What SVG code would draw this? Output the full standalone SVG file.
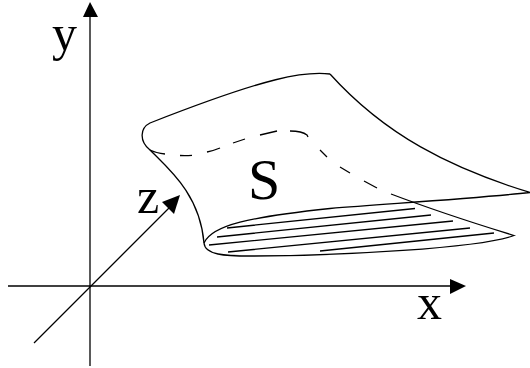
<svg xmlns="http://www.w3.org/2000/svg" width="530" height="368" viewBox="0 0 530 368">
<style>
.l{fill:none;stroke:#000;stroke-width:1.3;stroke-linecap:butt}
.a{fill:#000;stroke:none}
text{font-family:"Liberation Serif","Times New Roman",serif;font-size:50px;fill:#000}
</style>
<rect width="530" height="368" fill="#fff"/>
<g id="connectors">
<path class="l" d="M90 16V366"/>
<path class="a" d="M90 2L98 17H83Z"/>
<path class="l" d="M8 286H452"/>
<path class="a" d="M466 286L450 279V294Z"/>
<path class="l" d="M34 343L170 207"/>
<path class="a" d="M180 195L174 214L162 202Z"/>
</g>
<g id="surface">
<path class="l" d="M330 74C305 71 270 76 150 123C140 128 139 141 150 150C170 170 200 195 204 243C205 255 225 256 250 256C340 256 480 248 514 235.500C470 222 420 205 391 194"/>
<path class="l" d="M204 243C212 225 250 217 330 208.500C400 203 480 198 530 192.500C450 168 385 135 330 74"/>
<path class="l" d="M150 150Q156 153 165 154M180 155.500Q186 155.800 192 155.300M207 152Q214 150.500 220 148M233 143L245 139M260 135L277 131M290 131Q302 131 307 135L308 137M320 150L327 157M340 167L350 173M364 181L377 188"/>
<path class="l" d="M227 228L415 208.500M217 237L431 215M209 245L453 221M228 252L470 228M320 251L494 233"/>
</g>
<g id="label-y"><text x="52" y="50">y</text></g>
<g id="label-z"><text x="137" y="213">z</text></g>
<g id="label-S"><text x="248" y="199" style="font-size:58px">S</text></g>
<g id="label-x"><text x="417" y="319">x</text></g>
</svg>
